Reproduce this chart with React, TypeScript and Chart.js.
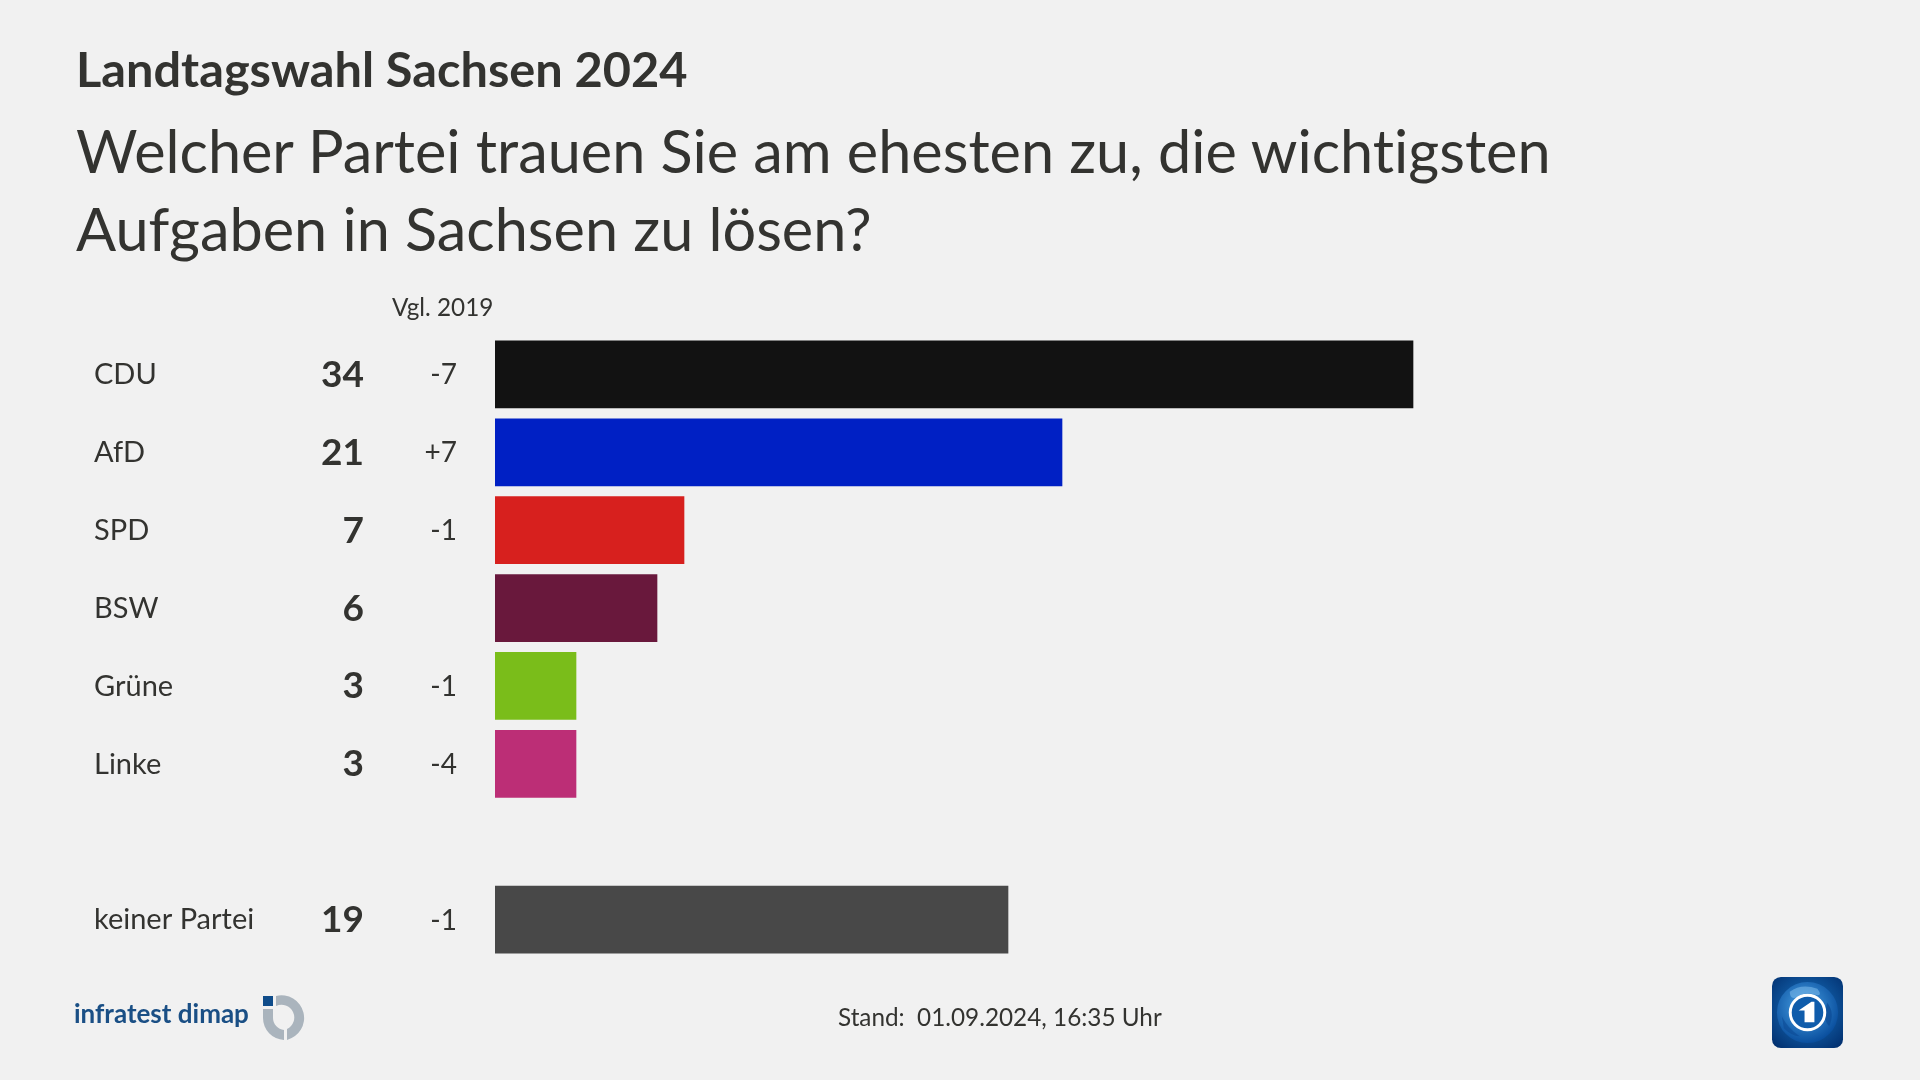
import React, { useEffect, useRef } from "react";
import { Chart, registerables } from "chart.js";

Chart.register(...registerables);

const FONT = "Lato, 'Noto Sans', sans-serif";
const TEXT = "#333330";

const categories = ["CDU", "AfD", "SPD", "BSW", "Grüne", "Linke", "", "keiner Partei"];
const shares = [34, 21, 7, 6, 3, 3, null, 19];
const deltas = ["-7", "+7", "-1", "", "-1", "-4", "", "-1"];
const barColors = ["#121212", "#0020c4", "#d7201e", "#69183c", "#7abd1a", "#bc2e76", "#f1f1f1", "#484848"];

const columnsPlugin = {
  id: "columns",
  afterDatasetsDraw(chart: any) {
    const { ctx, scales } = chart;
    ctx.save();
    ctx.textBaseline = "middle";
    ctx.textAlign = "right";
    ctx.fillStyle = TEXT;
    categories.forEach((_, i) => {
      const y = scales.y.getPixelForValue(i);
      if (shares[i] !== null) {
        ctx.font = `700 37px ${FONT}`;
        ctx.fillText(String(shares[i]), 364, y + 0.5);
      }
      if (deltas[i]) {
        ctx.font = `400 28px ${FONT}`;
        ctx.fillText(deltas[i], 457, y + 1);
      }
    });
    ctx.restore();
  },
};

export default function App() {
  const ref = useRef<HTMLCanvasElement>(null);
  useEffect(() => {
    document.body.style.margin = "0";
    document.body.style.background = "#f1f1f1";
    const chart = new Chart(ref.current!, {
      type: "bar",
      data: {
        labels: categories,
        datasets: [
          {
            data: shares,
            backgroundColor: barColors,
            barThickness: 67,
            borderWidth: 0,
          },
        ],
      },
      options: {
        indexAxis: "y",
        animation: false,
        responsive: false,
        layout: { padding: { left: 94, right: 75, top: 335.5, bottom: 121.5 } },
        plugins: { legend: { display: false }, tooltip: { enabled: false } },
        scales: {
          x: { min: 0, max: 50, display: false, grid: { display: false } },
          y: {
            grid: { display: false, drawTicks: false },
            border: { display: false },
            afterFit(s: any) {
              s.width = 401;
            },
            ticks: {
              crossAlign: "far",
              padding: 0,
              labelOffset: 0.5,
              autoSkip: false,
              color: TEXT,
              font: { family: FONT, size: 29 },
            },
          },
        },
      },
      plugins: [columnsPlugin],
    } as any);
    return () => chart.destroy();
  }, []);

  const abs = (s: React.CSSProperties): React.CSSProperties => ({
    position: "absolute",
    whiteSpace: "nowrap",
    fontFamily: FONT,
    color: TEXT,
    fontVariantLigatures: "none",
    ...s,
  });

  return (
    <div style={{ position: "relative", width: 1920, height: 1080, background: "#f1f1f1", overflow: "hidden" }}>
      <canvas ref={ref} width={1920} height={1080} style={{ position: "absolute", left: 0, top: 0, display: "block" }} />
      <div style={abs({ left: 76, top: 38, fontSize: 48.7, lineHeight: "60px", fontWeight: 700 })}>Landtagswahl Sachsen 2024</div>
      <div style={abs({ left: 76, top: 111, fontSize: 59.4, lineHeight: "78px" })}>
        Welcher Partei trauen Sie am ehesten zu, die wichtigsten
        <br />
        Aufgaben in Sachsen zu lösen?
      </div>
      <div style={abs({ left: 392, top: 292, fontSize: 24.3, lineHeight: "30px" })}>Vgl. 2019</div>
      <div style={abs({ left: 838, top: 1002, fontSize: 24.3, lineHeight: "30px" })}>Stand:&nbsp; 01.09.2024, 16:35 Uhr</div>
      <div style={abs({ left: 74, top: 995, fontSize: 26, lineHeight: "36px", fontWeight: 700, color: "#1a4f85" })}>infratest dimap</div>
      <svg style={{ position: "absolute", left: 261, top: 994 }} width="48" height="48" viewBox="0 0 48 48">
        <rect x="2" y="2" width="10" height="10" fill="#0f4c8a" />
        <path d="M15 2 A22 22 0 0 1 26 45.9 L26 35 A12 12 0 0 0 15 12 Z" fill="#aab4bd" />
        <path d="M2 15 L12 15 L12 24 A12 12 0 0 0 23 35.9 L23 45.9 A22 22 0 0 1 2 24 Z" fill="#aab4bd" />
      </svg>
      <svg style={{ position: "absolute", left: 1772, top: 977 }} width="71" height="71" viewBox="0 0 72 72">
        <defs>
          <radialGradient id="bg" cx="50%" cy="45%" r="70%">
            <stop offset="0%" stopColor="#1a78c8" />
            <stop offset="100%" stopColor="#02306f" />
          </radialGradient>
          <radialGradient id="gl" cx="45%" cy="40%" r="60%">
            <stop offset="0%" stopColor="#4aa3e6" />
            <stop offset="100%" stopColor="#0a4f9e" />
          </radialGradient>
        </defs>
        <rect width="72" height="72" rx="9" fill="url(#bg)" />
        <circle cx="36" cy="36" r="31" fill="url(#gl)" />
        <path d="M18 15 Q30 6 46 12 Q52 20 44 18 Q34 14 26 20 Q18 24 18 15 Z" fill="#7fbdec" opacity="0.55" />
        <path d="M56 26 Q64 36 58 50 Q52 44 54 34 Z" fill="#0b4a94" opacity="0.7" />
        <path d="M10 40 Q16 52 28 60 Q20 60 12 52 Z" fill="#0b4a94" opacity="0.6" />
        <circle cx="36" cy="36" r="17.5" fill="#0f5cab" stroke="#ffffff" strokeWidth="3" />
        <path d="M27 34 L40 25 L43 25 L43 46 L33 46 L33 34 Z" fill="#ffffff" />
      </svg>
    </div>
  );
}
